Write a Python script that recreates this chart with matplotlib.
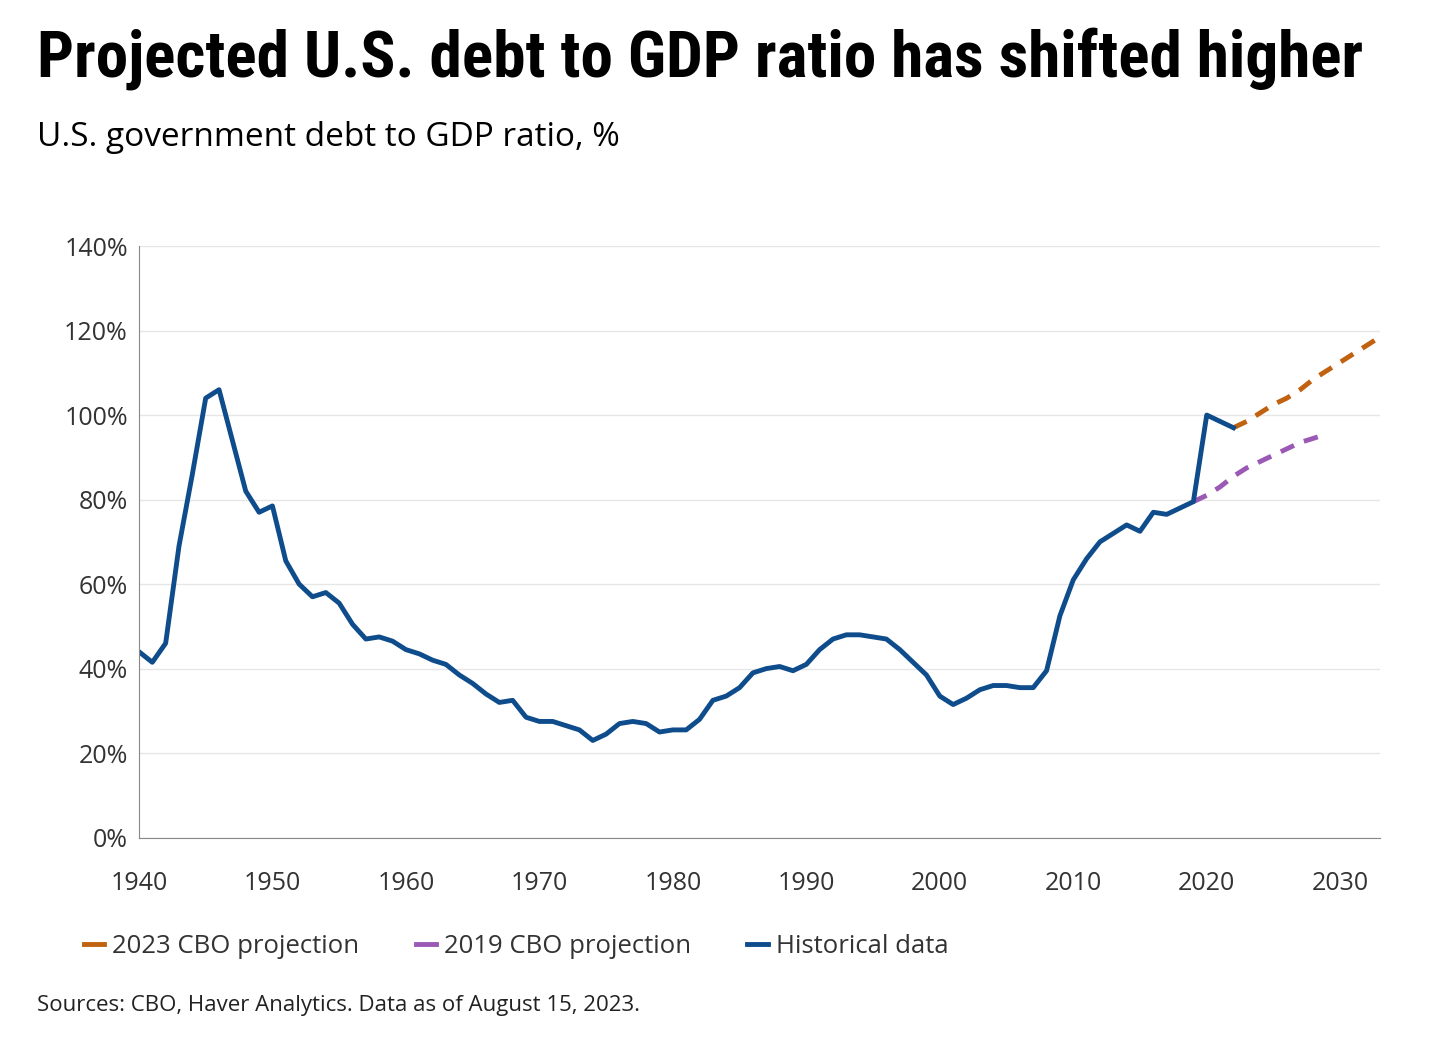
import matplotlib
matplotlib.use("Agg")
import matplotlib.pyplot as plt
from matplotlib.lines import Line2D

hist_years = list(range(1940, 2023))
hist_vals = [44, 41.5, 46, 69, 86, 104, 106, 94, 82, 77, 78.5, 65.5, 60, 57, 58, 55.5, 50.5, 47, 47.5, 46.5,
             44.5, 43.5, 42, 41, 38.5, 36.5, 34, 32, 32.5, 28.5, 27.5, 27.5, 26.5, 25.5, 23, 24.5, 27, 27.5, 27, 25,
             25.5, 25.5, 28, 32.5, 33.5, 35.5, 39, 40, 40.5, 39.5, 41, 44.5, 47, 48, 48, 47.5, 47, 44.5, 41.5, 38.5,
             33.5, 31.5, 33, 35, 36, 36, 35.5, 35.5, 39.5, 52.5, 61, 66, 70, 72, 74, 72.5, 77, 76.5, 78, 79.5,
             100, 98.5, 97]
cbo23_years = list(range(2022, 2034))
cbo23_vals = [97, 98.5, 100.5, 102.5, 104, 106, 108.5, 110.5, 112.5, 114.5, 116.5, 118.5]
cbo19_years = list(range(2019, 2030))
cbo19_vals = [79.5, 81, 83, 85.5, 87.5, 89, 90.5, 92, 93.5, 94.5, 95.5]
yticks = [0, 20, 40, 60, 80, 100, 120, 140]
xticks = [1940, 1950, 1960, 1970, 1980, 1990, 2000, 2010, 2020, 2030]

plt.rcParams['font.family'] = ['Open Sans', 'DejaVu Sans']
fig = plt.figure(figsize=(14.4, 10.38), dpi=100)
ax = fig.add_axes([0.0965, 0.193, 0.862, 0.570])

c23, c19, ch = '#c0620f', '#9b59b6', '#0e4c8c'
ax.plot(cbo23_years, cbo23_vals, color=c23, lw=3.5, ls=(0, (3, 2.2)))
ax.plot(cbo19_years, cbo19_vals, color=c19, lw=3.5, ls=(0, (3, 2.2)))
ax.plot(hist_years, hist_vals, color=ch, lw=3.5)

ax.set_xlim(1940, 2033)
ax.set_ylim(0, 140)
ax.set_yticks(yticks)
ax.set_yticklabels([f"{v}%" for v in yticks])
ax.set_xticks(xticks)
ax.grid(axis='y', color='#e6e6e6', lw=1)
ax.set_axisbelow(True)
for s in ['top', 'right']:
    ax.spines[s].set_visible(False)
ax.spines['left'].set_color('#888888')
ax.spines['bottom'].set_color('#888888')
ax.tick_params(axis='both', length=0, labelsize=18, colors='#333333')
ax.tick_params(axis='x', pad=24)
ax.tick_params(axis='y', pad=8)

fig.text(0.026, 0.944, "Projected U.S. debt to GDP ratio has shifted higher", fontsize=47,
         fontweight='bold', va='center', ha='left', family=['Roboto Condensed', 'Roboto', 'DejaVu Sans'])
fig.text(0.026, 0.868, "U.S. government debt to GDP ratio, %", fontsize=24, va='center', ha='left')
fig.text(0.026, 0.031, "Sources: CBO, Haver Analytics. Data as of August 15, 2023.", fontsize=16,
         va='center', ha='left', color='#222222')

handles = [Line2D([], [], color=c23, lw=3.5), Line2D([], [], color=c19, lw=3.5), Line2D([], [], color=ch, lw=3.5)]
fig.legend(handles, ["2023 CBO projection", "2019 CBO projection", "Historical data"],
           loc='center left', bbox_to_anchor=(0.042, 0.088), ncol=3, frameon=False, fontsize=18.5,
           handlelength=0.8, handletextpad=0.3, columnspacing=2.2, labelcolor='#333333')
fig.savefig("out.png", dpi=100)
